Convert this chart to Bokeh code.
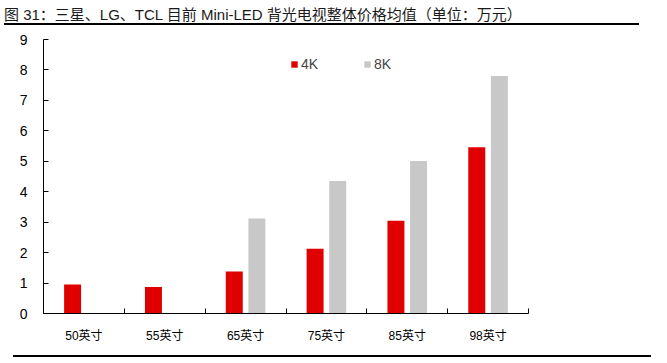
from bokeh.plotting import figure
from bokeh.models import ColumnDataSource, FixedTicker, Legend, LegendItem, Div
from bokeh.layouts import column
from bokeh.transform import dodge
from bokeh.embed import file_html
from bokeh.resources import INLINE

categories = ["50英寸", "55英寸", "65英寸", "75英寸", "85英寸", "98英寸"]
price_4k = [0.95, 0.87, 1.38, 2.13, 3.05, 5.46]
price_8k = [float("nan"), float("nan"), 3.12, 4.35, 5.01, 7.80]
y_ticks = list(range(0, 10))
series_names = ["4K", "8K"]
title_text = "图 31：三星、LG、TCL 目前 Mini-LED 背光电视整体价格均值（单位：万元）"

RED = "#E00000"
GRAY = "#C8C8C8"
FONT = "Liberation Sans, Noto Sans CJK SC"
CSS_FONT = "'Liberation Sans','Noto Sans CJK SC',sans-serif"

n = len(categories)
centers = [i + 0.5 for i in range(n)]
src = ColumnDataSource(dict(x=centers, k4=price_4k, k8=price_8k))

W = 651
TITLE_H = 25
PH = 320                     # figure height
FL, FT, FR, FB = 43, 14, 528, 289   # frame edges inside the figure

title_div = Div(
    text=(f'<div style="position:relative;left:4px;width:{W - 16}px;height:{TITLE_H}px;'
          'box-sizing:border-box;padding-top:6px;line-height:18px;'
          f'font-family:{CSS_FONT};font-size:15px;color:#1a1a1a;'
          f'border-bottom:2px solid black;white-space:nowrap;">{title_text}</div>'),
    width=W, height=TITLE_H, margin=0)

p = figure(width=W, height=PH, x_range=(0, n), y_range=(0, 9),
           output_backend="svg", toolbar_location=None,
           min_border_left=FL, min_border_right=W - FR,
           min_border_top=FT, min_border_bottom=PH - FB, margin=0)
p.outline_line_color = None
p.xgrid.visible = False
p.ygrid.visible = False
p.background_fill_color = "white"

r4 = p.vbar(x=dodge("x", -0.14), top="k4", width=0.21, source=src,
            fill_color=RED, line_color=None)
r8 = p.vbar(x=dodge("x", 0.14), top="k8", width=0.21, source=src,
            fill_color=GRAY, line_color=None)

# y axis
p.yaxis.ticker = FixedTicker(ticks=y_ticks)
p.yaxis.major_tick_in = 5
p.yaxis.major_tick_out = 0
p.yaxis.minor_tick_line_color = None
p.yaxis.major_label_standoff = 16
p.yaxis.major_label_text_font = FONT
p.yaxis.major_label_text_font_size = "14px"
p.yaxis.major_label_text_color = "black"
p.yaxis.axis_line_color = "black"
p.yaxis.major_tick_line_color = "black"

# x axis: labels at centers, ticks at boundaries
p.xaxis.ticker = FixedTicker(ticks=centers, minor_ticks=list(range(0, n + 1)))
p.xaxis.major_label_overrides = {c: lab for c, lab in zip(centers, categories)}
p.xaxis.major_tick_line_color = None
p.xaxis.minor_tick_in = 5
p.xaxis.minor_tick_out = 0
p.xaxis.minor_tick_line_color = "black"
p.xaxis.major_label_standoff = 9
p.xaxis.major_label_text_font = FONT
p.xaxis.major_label_text_font_size = "12px"
p.xaxis.major_label_text_color = "black"
p.xaxis.axis_line_color = "black"

legend = Legend(items=[LegendItem(label=series_names[0], renderers=[r4]),
                       LegendItem(label=series_names[1], renderers=[r8])],
                location=(290 - 43, FB - (73 - TITLE_H)), orientation="horizontal",
                glyph_width=8, glyph_height=8, label_standoff=3, spacing=42,
                padding=0, margin=0, border_line_color=None,
                background_fill_alpha=0,
                label_text_font=FONT, label_text_font_size="14px")
p.add_layout(legend, "center")

bottom_div = Div(
    text=f'<div style="margin-left:13px;width:{W - 13}px;height:2px;background:black;"></div>',
    width=W, height=2, margin=0)

layout = column(title_div, p, bottom_div, spacing=0, margin=0)

open("out.html", "w").write(file_html(layout, INLINE))
